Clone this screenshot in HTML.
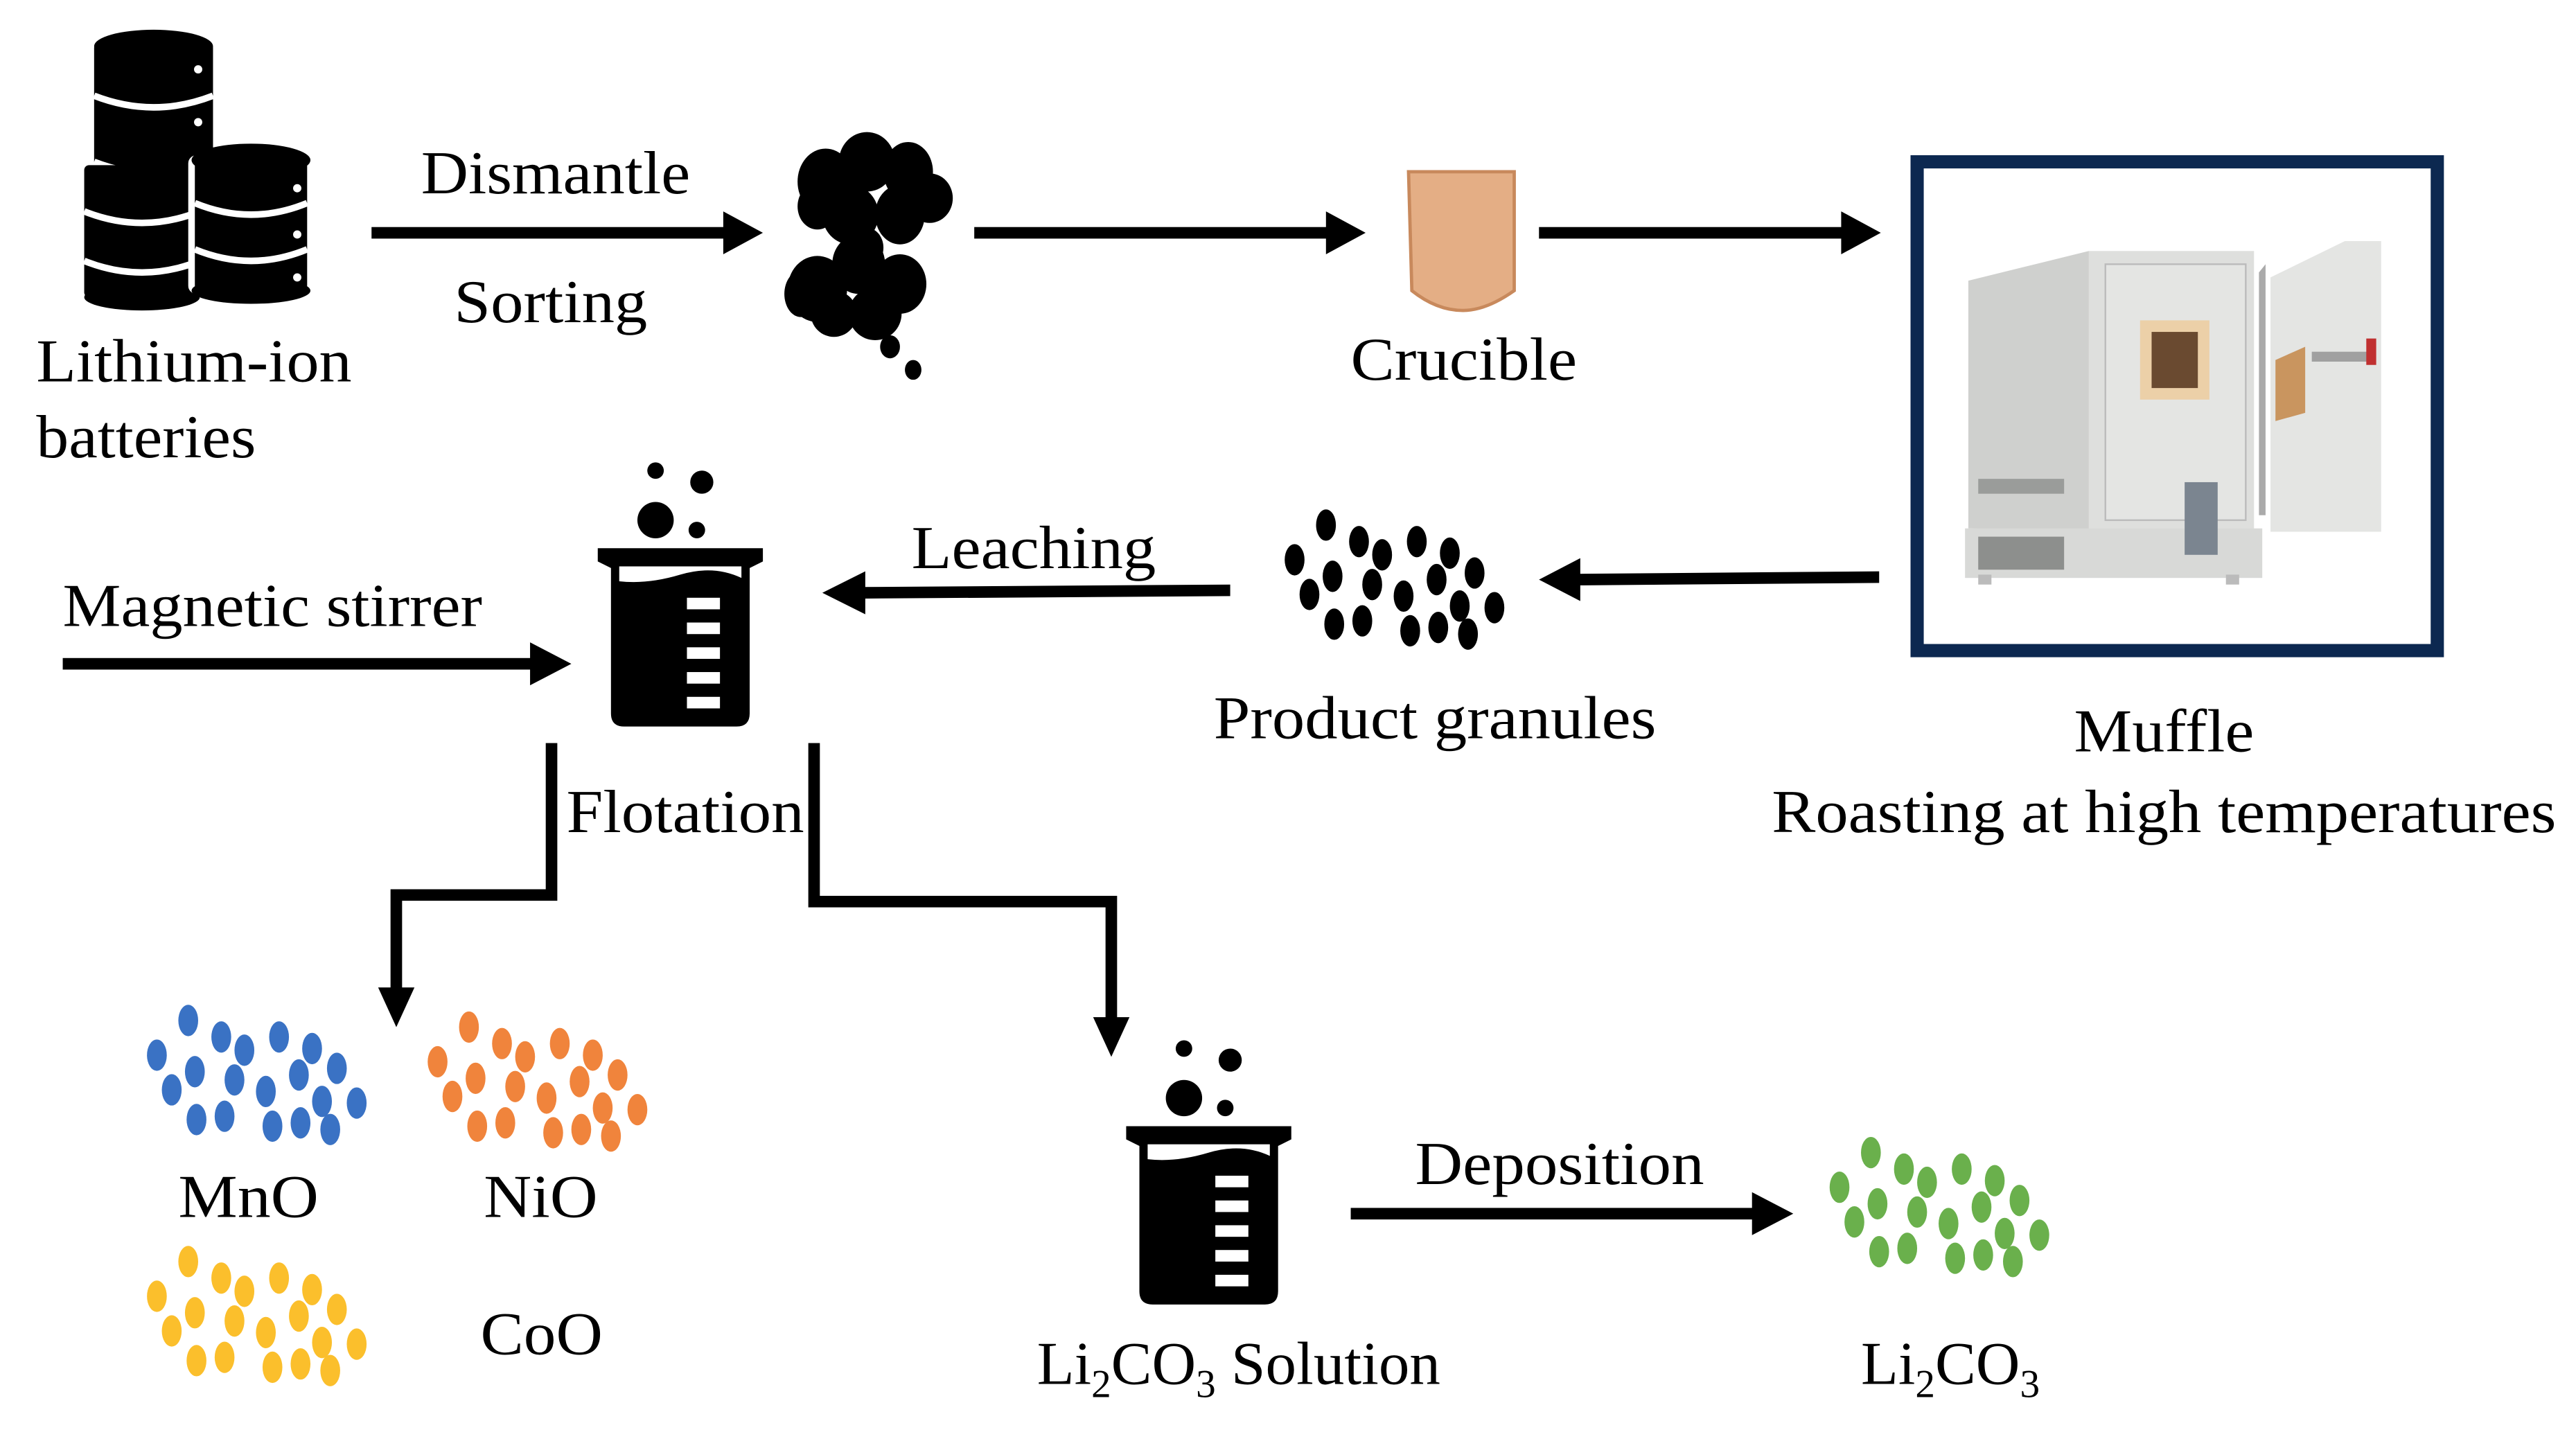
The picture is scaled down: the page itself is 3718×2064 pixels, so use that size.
<!DOCTYPE html>
<html><head><meta charset="utf-8"><style>
html,body{margin:0;padding:0;background:#fff;}
svg{display:block;}
</style></head><body>
<svg width="3718" height="2064" viewBox="0 0 1560 866" preserveAspectRatio="none" xmlns="http://www.w3.org/2000/svg" font-family="'Liberation Serif','DejaVu Serif',serif" font-size="37">
<defs>
<g id="cl">
<ellipse cx="26" cy="8" rx="6" ry="9.5"/><ellipse cx="46" cy="18" rx="6" ry="9.5"/><ellipse cx="60" cy="26" rx="6" ry="9.5"/><ellipse cx="81" cy="18" rx="6" ry="9.5"/><ellipse cx="101" cy="25" rx="6" ry="9.5"/><ellipse cx="7" cy="29" rx="6" ry="9.5"/><ellipse cx="30" cy="39" rx="6" ry="9.5"/><ellipse cx="54" cy="44" rx="6" ry="9.5"/><ellipse cx="93" cy="41" rx="6" ry="9.5"/><ellipse cx="116" cy="37" rx="6" ry="9.5"/><ellipse cx="16" cy="50" rx="6" ry="9.5"/><ellipse cx="73" cy="51" rx="6" ry="9.5"/><ellipse cx="107" cy="57" rx="6" ry="9.5"/><ellipse cx="128" cy="58" rx="6" ry="9.5"/><ellipse cx="31" cy="68" rx="6" ry="9.5"/><ellipse cx="48" cy="66" rx="6" ry="9.5"/><ellipse cx="77" cy="72" rx="6" ry="9.5"/><ellipse cx="94" cy="70" rx="6" ry="9.5"/><ellipse cx="112" cy="74" rx="6" ry="9.5"/>
</g>
<g id="beaker">
<circle cx="35" cy="-45" r="5"/><circle cx="63" cy="-38" r="7"/><circle cx="35" cy="-15" r="11"/><circle cx="60" cy="-9" r="5"/>
<path d="M0,2 L100,2 L100,10 L92,14 L92,102 Q92,110 84,110 L16,110 Q8,110 8,102 L8,14 L0,10 Z"/>
<path d="M13,13 L87,13 L87,20 Q70,12 50,18 Q30,24 13,22 Z" fill="#fff"/>
<g fill="#fff"><rect x="54" y="32" width="20" height="7"/><rect x="54" y="47" width="20" height="7"/><rect x="54" y="62" width="20" height="7"/><rect x="54" y="77" width="20" height="7"/><rect x="54" y="92" width="20" height="7"/></g>
</g>
</defs>

<g>
<rect x="57" y="26" width="72" height="150" rx="3"/>
<ellipse cx="93" cy="28" rx="36" ry="10"/>
<path d="M57,58 Q93,72 129,58 M57,98 Q93,112 129,98 M57,138 Q93,152 129,138" stroke="#fff" stroke-width="4" fill="none"/>
<rect x="51" y="100" width="70" height="80" rx="3"/>
<ellipse cx="86" cy="180" rx="35" ry="8"/>
<path d="M51,128 Q86,142 121,128 M51,158 Q86,172 121,158" stroke="#fff" stroke-width="4" fill="none"/>
<rect x="116" y="96" width="72" height="80" rx="3" stroke="#fff" stroke-width="4"/>
<ellipse cx="152" cy="97" rx="36" ry="10"/>
<ellipse cx="152" cy="176" rx="36" ry="8"/>
<path d="M118,123 Q152,137 186,123 M118,151 Q152,165 186,151" stroke="#fff" stroke-width="4" fill="none"/>
<g fill="#fff"><circle cx="120" cy="42" r="2.5"/><circle cx="120" cy="74" r="2.5"/><circle cx="180" cy="114" r="2.5"/><circle cx="180" cy="142" r="2.5"/><circle cx="180" cy="168" r="2.5"/></g>
</g>
<text x="22" y="231" textLength="191" lengthAdjust="spacingAndGlyphs">Lithium-ion</text>
<text x="22" y="277" textLength="133" lengthAdjust="spacingAndGlyphs">batteries</text>

<g fill="#000">
<rect x="225" y="137.5" width="215" height="7"/><path d="M438,128 L462,141 L438,154 Z"/>
<rect x="590" y="137.5" width="215" height="7"/><path d="M803,128 L827,141 L803,154 Z"/>
<rect x="932" y="137.5" width="185" height="7"/><path d="M1115,128 L1139,141 L1115,154 Z"/>
</g>
<text x="255" y="117" textLength="163" lengthAdjust="spacingAndGlyphs">Dismantle</text>
<text x="275" y="195" textLength="117" lengthAdjust="spacingAndGlyphs">Sorting</text>

<g fill="#000">
<ellipse cx="500" cy="110" rx="17" ry="20"/><ellipse cx="525" cy="98" rx="17" ry="18"/><ellipse cx="550" cy="104" rx="15" ry="18"/><ellipse cx="563" cy="120" rx="14" ry="15"/><ellipse cx="545" cy="130" rx="15" ry="18"/><ellipse cx="515" cy="130" rx="17" ry="18"/><ellipse cx="495" cy="125" rx="12" ry="14"/>
<ellipse cx="525" cy="150" rx="10" ry="12"/>
<ellipse cx="495" cy="175" rx="18" ry="20"/><ellipse cx="520" cy="160" rx="16" ry="18"/><ellipse cx="545" cy="172" rx="16" ry="18"/><ellipse cx="530" cy="190" rx="16" ry="16"/><ellipse cx="505" cy="190" rx="14" ry="14"/><ellipse cx="485" cy="178" rx="10" ry="14"/>
<ellipse cx="539" cy="210" rx="6" ry="7"/><ellipse cx="553" cy="224" rx="5" ry="6"/>
</g>

<path d="M853,104 L917,104 L917,176 Q900,188 886,188 Q870,188 855,176 Z" fill="#e4ae85" stroke="#c8895c" stroke-width="2"/>
<text x="818" y="230" textLength="137" lengthAdjust="spacingAndGlyphs">Crucible</text>

<rect x="1161" y="98" width="315" height="296" fill="#fff" stroke="#0c2850" stroke-width="8"/>
<g>
<path d="M1192,170 L1265,152 L1265,322 L1192,320 Z" fill="#cfd0ce"/>
<rect x="1265" y="152" width="100" height="170" fill="#dedfdd"/>
<rect x="1275" y="160" width="85" height="155" fill="#e4e5e3" stroke="#bbb" stroke-width="1"/>
<rect x="1190" y="320" width="180" height="30" fill="#d8d9d7"/>
<rect x="1198" y="325" width="52" height="20" fill="#8d8f8d"/>
<rect x="1198" y="290" width="52" height="9" fill="#9a9c9a"/>
<rect x="1323" y="292" width="20" height="44" fill="#7b8590"/>
<rect x="1296" y="194" width="42" height="48" fill="#ecd0a8"/>
<rect x="1303" y="201" width="28" height="34" fill="#6a4a30"/>
<path d="M1368,165 L1372,160 L1372,312 L1368,312 Z" fill="#aaa"/>
<path d="M1375,168 L1420,146 L1442,146 L1442,322 L1375,322 Z" fill="#e4e5e3"/>
<path d="M1378,218 L1396,210 L1396,250 L1378,255 Z" fill="#c9955f"/>
<rect x="1400" y="213" width="35" height="6" fill="#a0a0a0"/>
<rect x="1433" y="205" width="6" height="16" fill="#c03030"/>
<rect x="1198" y="348" width="8" height="6" fill="#bbb"/><rect x="1348" y="348" width="8" height="6" fill="#bbb"/>
</g>
<text x="1256" y="455" textLength="109" lengthAdjust="spacingAndGlyphs">Muffle</text>
<text x="1073" y="504" textLength="475" lengthAdjust="spacingAndGlyphs">Roasting at high temperatures</text>

<g fill="#000">
<path d="M1138,346 L955,347.5 L955,354.5 L1138,353 Z"/><path d="M957,338 L932,351 L957,364 Z"/>
<path d="M745,354 L522,355.5 L522,362.5 L745,361 Z"/><path d="M524,346 L498,359 L524,372 Z"/>
<rect x="38" y="398.5" width="285" height="7"/><path d="M321,389 L346,402 L321,415 Z"/>
</g>
<text x="552" y="344" textLength="148" lengthAdjust="spacingAndGlyphs">Leaching</text>
<text x="38" y="379" textLength="254" lengthAdjust="spacingAndGlyphs">Magnetic stirrer</text>

<use href="#cl" x="777" y="310" fill="#000"/>
<text x="735" y="447" textLength="268" lengthAdjust="spacingAndGlyphs">Product granules</text>

<use href="#beaker" x="362" y="330"/>
<text x="343" y="504" textLength="144" lengthAdjust="spacingAndGlyphs">Flotation</text>

<g fill="none" stroke="#000" stroke-width="7">
<path d="M334,450 L334,542 L240,542 L240,600"/>
<path d="M493,450 L493,546 L673,546 L673,620"/>
</g>
<path d="M229,598 L251,598 L240,622 Z"/>
<path d="M662,616 L684,616 L673,640 Z"/>

<use href="#cl" x="88" y="610" fill="#3a72c4"/>
<use href="#cl" x="258" y="614" fill="#f0843c"/>
<use href="#cl" x="88" y="756" fill="#fbbf2c"/>
<text x="108" y="737" textLength="85" lengthAdjust="spacingAndGlyphs">MnO</text>
<text x="293" y="737" textLength="69" lengthAdjust="spacingAndGlyphs">NiO</text>
<text x="291" y="820" textLength="74" lengthAdjust="spacingAndGlyphs">CoO</text>

<use href="#beaker" x="682" y="680"/>
<text x="628" y="838">Li<tspan font-size="24" dy="8">2</tspan><tspan dy="-8">CO</tspan><tspan font-size="24" dy="8">3</tspan><tspan dy="-8" textLength="136" lengthAdjust="spacingAndGlyphs"> Solution</tspan></text>

<rect x="818" y="731.5" width="245" height="7"/><path d="M1061,722 L1086,735 L1061,748 Z"/>
<text x="857" y="717" textLength="175" lengthAdjust="spacingAndGlyphs">Deposition</text>
<use href="#cl" x="1107" y="690" fill="#6ab04c"/>
<text x="1127" y="838">Li<tspan font-size="24" dy="8">2</tspan><tspan dy="-8">CO</tspan><tspan font-size="24" dy="8">3</tspan></text>
</svg>
</body></html>
